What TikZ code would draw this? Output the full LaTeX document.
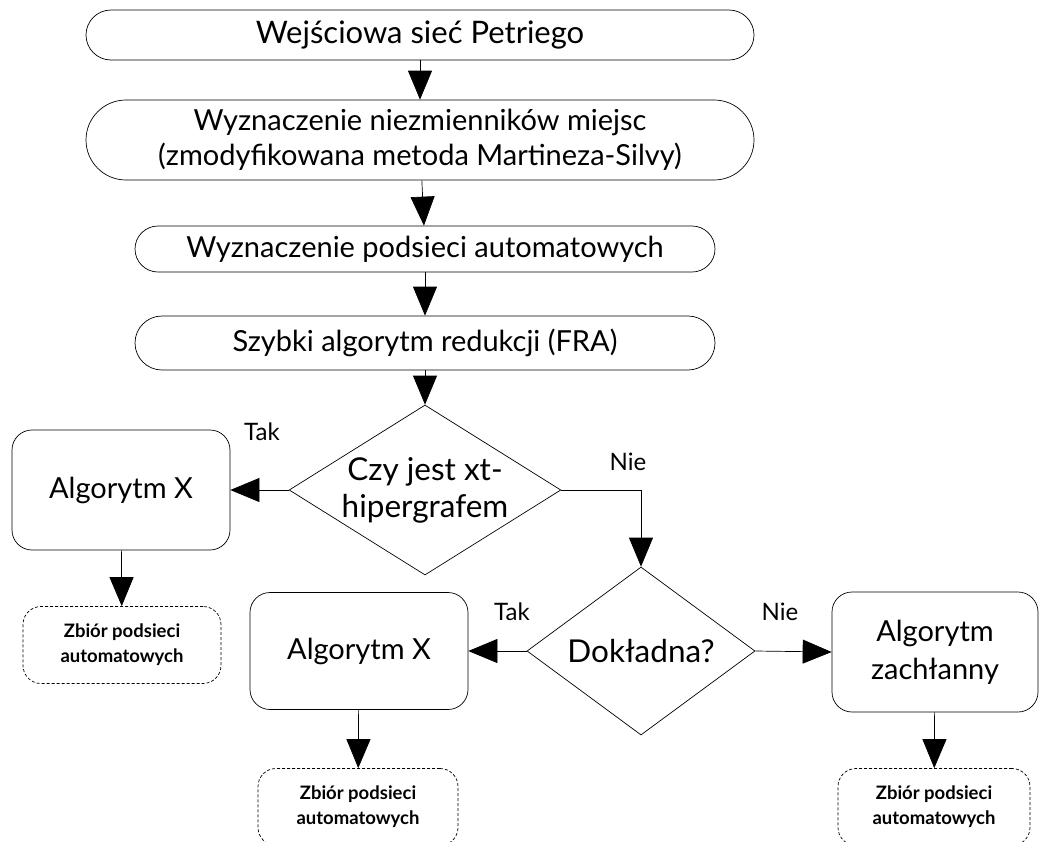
\documentclass[tikz,border=0pt]{standalone}
\usepackage{fontspec}
\setmainfont{Lato}
\usetikzlibrary{arrows.meta, positioning, shapes.geometric}

\begin{document}
\begin{tikzpicture}[
      x=1pt, y=-1pt,
      line width=0.7pt,
      stage/.style={rectangle, draw, align=center, font=\fontsize{29}{35}\selectfont},
      algbox/.style={rectangle, draw, rounded corners=20pt, align=center, font=\fontsize{29}{38}\selectfont},
      setbox/.style={rectangle, draw, dash pattern=on 3pt off 2pt, rounded corners=18pt, align=center, font=\bfseries\fontsize{18.5}{25}\selectfont, minimum height=77pt},
      decision/.style={diamond, draw, inner sep=0pt, align=center, font=\fontsize{31.5}{37}\selectfont},
      answer/.style={font=\fontsize{24}{28}\selectfont},
      flow/.style={-{Triangle[length=29pt, width=24pt]}},
    ]
    \useasboundingbox (0,0) rectangle (1039,841);

    % Main pipeline stages
    \node[stage, font=\fontsize{31}{35}\selectfont, minimum width=668pt, minimum height=50pt, rounded corners=25pt] (input) at (420, 35) {Wejściowa sieć Petriego};
    \node[stage, minimum width=668pt, minimum height=80pt, rounded corners=40pt] (invar) at (420, 140) {Wyznaczenie niezmienników miejsc\\(zmodyfikowana metoda Martineza-Silvy)};
    \node[stage, minimum width=580pt, minimum height=46pt, rounded corners=23pt] (subnets) at (425, 249) {Wyznaczenie podsieci automatowych};
    \node[stage, minimum width=580pt, minimum height=54pt, rounded corners=27pt] (fra) at (425, 343) {Szybki algorytm redukcji (FRA)};

    % First decision: xt-hypergraph test
    \node[decision, shape aspect=1.6, minimum width=270pt, minimum height=170pt] (xt) at (425, 490) {Czy jest xt-\\hipergrafem};
    \node[algbox, minimum width=218pt, minimum height=120pt] (algx1) at (121, 490) {Algorytm X};
    \node[setbox, minimum width=198pt] (set1) at (122, 645) {Zbiór podsieci\\automatowych};
    \node[answer] (tak1) at (262, 432) {Tak};
    \node[answer] (nie1) at (628, 462) {Nie};

    % Second decision: exact or greedy
    \node[decision, shape aspect=1.4, minimum width=228pt, minimum height=168pt] (exact) at (641, 651) {Dokładna?};
    \node[algbox, minimum width=218pt, minimum height=117pt] (algx2) at (359, 651) {Algorytm X};
    \node[setbox, minimum width=200pt] (set2) at (358, 807) {Zbiór podsieci\\automatowych};
    \node[algbox, minimum width=206pt, minimum height=120pt] (greedy) at (935, 652) {Algorytm\\zachłanny};
    \node[setbox, minimum width=192pt] (set3) at (934, 807) {Zbiór podsieci\\automatowych};
    \node[answer] (tak2) at (512, 612) {Tak};
    \node[answer] (nie2) at (780, 612) {Nie};

    % Connectors
    \draw[flow] (input) -- (invar);
    \draw[flow] (invar) -- (subnets);
    \draw[flow] (subnets) -- (fra);
    \draw[flow] (fra) -- (xt);
    \draw[flow] (xt.west) -- (algx1.east);
    \draw[flow] (algx1) -- (set1);
    \draw[flow] (xt.east) -| (exact.north);
    \draw[flow] (exact.west) -- (algx2.east);
    \draw[flow] (algx2) -- (set2);
    \draw[flow] (exact.east) -- (greedy.west);
    \draw[flow] (greedy) -- (set3);
  \end{tikzpicture}
\end{document}
